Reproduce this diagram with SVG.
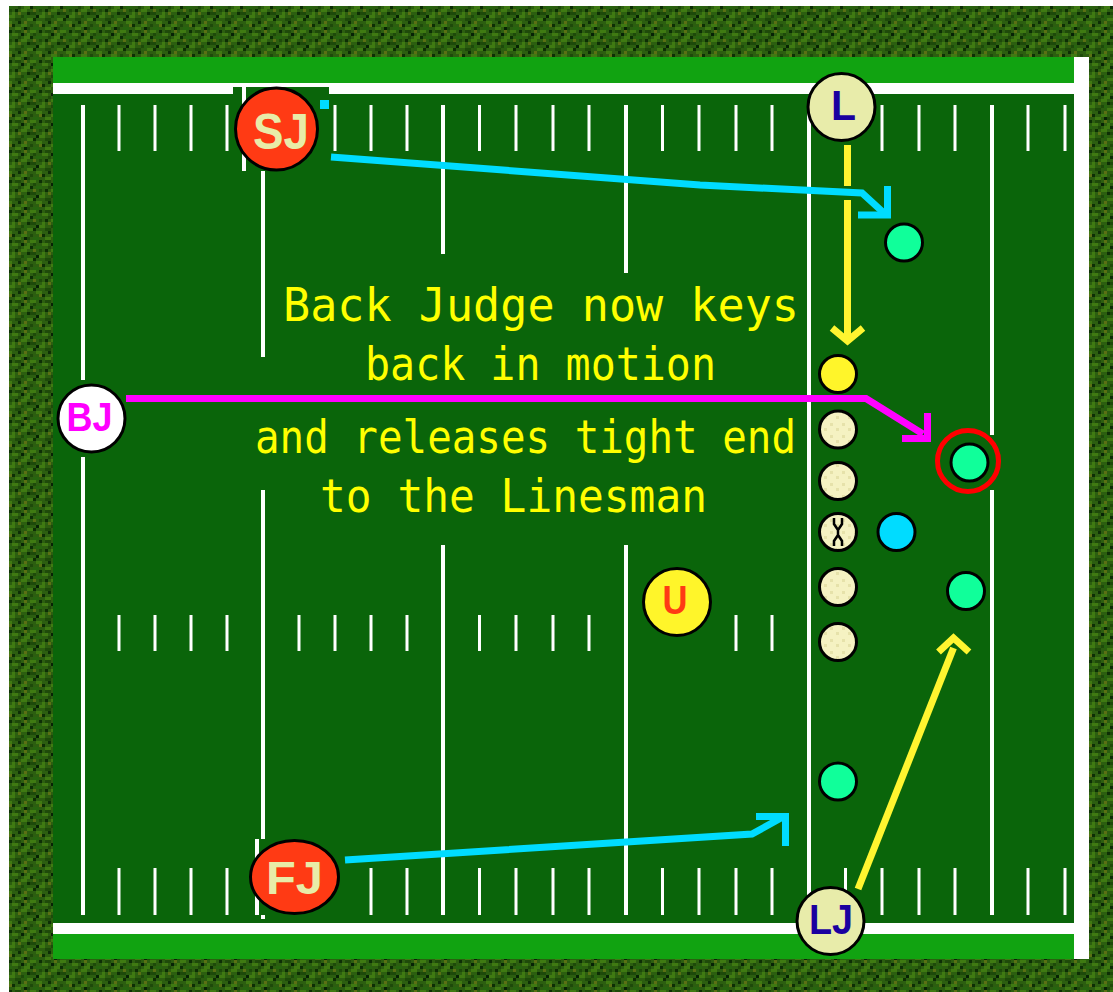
<svg xmlns="http://www.w3.org/2000/svg" width="1113" height="992" viewBox="0 0 1113 992">
<style>
.fld{fill:#0a650a}
.hash{stroke:#fff;stroke-width:3;fill:none}
.yl{stroke:#fff;stroke-width:4;fill:none}
.ring{stroke:#000;stroke-width:3}
.lbl{font-family:"Liberation Sans",Arial,sans-serif;font-weight:bold;text-anchor:middle}
.cap{font-family:"DejaVu Sans Mono","Liberation Mono",monospace;fill:#ffff00;font-size:46px}
.arr{fill:none;stroke-width:7;stroke-linejoin:miter;stroke-linecap:butt}
.cy{stroke:#00dcff}
.ye{stroke:#fff530}
.mg{stroke:#ff00ff}
.mint{fill:#10ff9a}
.pale{fill:url(#speck)}
</style>
<defs>
<pattern id="grass" width="30" height="30" patternUnits="userSpaceOnUse">
<rect width="30" height="30" fill="#2c5e10"/>
<rect x="0" y="0" width="6" height="3" fill="#3f7a12"/><rect x="9" y="0" width="3" height="3" fill="#0d2e05"/><rect x="15" y="0" width="6" height="3" fill="#1e4a0a"/><rect x="24" y="0" width="3" height="3" fill="#5a7014"/>
<rect x="3" y="3" width="3" height="3" fill="#1e4a0a"/><rect x="12" y="3" width="6" height="3" fill="#3f7a12"/><rect x="21" y="3" width="3" height="3" fill="#082205"/><rect x="27" y="3" width="3" height="3" fill="#3f7a12"/>
<rect x="0" y="6" width="3" height="3" fill="#0d2e05"/><rect x="6" y="6" width="6" height="3" fill="#26650e"/><rect x="18" y="6" width="3" height="3" fill="#1e4a0a"/><rect x="24" y="6" width="6" height="3" fill="#3f7a12"/>
<rect x="3" y="9" width="3" height="3" fill="#5a7014"/><rect x="9" y="9" width="3" height="3" fill="#1e4a0a"/><rect x="15" y="9" width="3" height="3" fill="#0d2e05"/><rect x="21" y="9" width="6" height="3" fill="#3f7a12"/>
<rect x="0" y="12" width="6" height="3" fill="#1e4a0a"/><rect x="12" y="12" width="3" height="3" fill="#3f7a12"/><rect x="18" y="12" width="3" height="3" fill="#5a7014"/><rect x="27" y="12" width="3" height="3" fill="#0d2e05"/>
<rect x="6" y="15" width="3" height="3" fill="#082205"/><rect x="9" y="15" width="6" height="3" fill="#3f7a12"/><rect x="21" y="15" width="3" height="3" fill="#1e4a0a"/><rect x="24" y="15" width="3" height="3" fill="#26650e"/>
<rect x="0" y="18" width="3" height="3" fill="#3f7a12"/><rect x="3" y="18" width="3" height="3" fill="#0d2e05"/><rect x="15" y="18" width="6" height="3" fill="#1e4a0a"/><rect x="27" y="18" width="3" height="3" fill="#3f7a12"/>
<rect x="6" y="21" width="6" height="3" fill="#3f7a12"/><rect x="18" y="21" width="3" height="3" fill="#0d2e05"/><rect x="24" y="21" width="3" height="3" fill="#5a7014"/>
<rect x="0" y="24" width="3" height="3" fill="#1e4a0a"/><rect x="9" y="24" width="3" height="3" fill="#5a7014"/><rect x="12" y="24" width="3" height="3" fill="#0d2e05"/><rect x="21" y="24" width="6" height="3" fill="#3f7a12"/>
<rect x="3" y="27" width="6" height="3" fill="#26650e"/><rect x="15" y="27" width="6" height="3" fill="#3f7a12"/><rect x="24" y="27" width="3" height="3" fill="#082205"/><rect x="27" y="27" width="3" height="3" fill="#1e4a0a"/>
</pattern>
<pattern id="speck" width="12" height="12" patternUnits="userSpaceOnUse">
<rect width="12" height="12" fill="#f5f2c2"/><rect x="2" y="3" width="3" height="3" fill="#e6e2aa"/><rect x="8" y="8" width="3" height="3" fill="#e6e2aa"/>
</pattern>
</defs>

<g id="field">
<rect width="1113" height="992" fill="#fff"/>
<rect x="9" y="6" width="1104" height="986" fill="url(#grass)"/>
<rect x="53" y="57" width="1021" height="902" fill="#11a311"/>
<rect x="53" y="83" width="1021" height="851" fill="#fff"/>
<rect x="53" y="94" width="1021" height="829" class="fld"/>
<rect x="1074" y="57" width="15" height="902" fill="#fff"/>
<path class="yl" d="M83,105V380M83,457V915M263,105V357M263,490V919M443,105V254M443,545V915M626,105V273M626,545V915M809,105V915M992,105V435M992,490V915"/>
<path class="hash" d="M119,105V151M155,105V151M191,105V151M227,105V151M335,105V151M371,105V151M407,105V151M479.5,105V151M516,105V151M553,105V151M589,105V151M662.5,105V151M699,105V151M736,105V151M772,105V151M882,105V151M919,105V151M955,105V151M1028,105V151M1065,105V151"/>
<path class="hash" d="M119,615V651M155,615V651M191,615V651M227,615V651M299,615V651M335,615V651M371,615V651M407,615V651M479.5,615V651M516,615V651M553,615V651M589,615V651M736,615V651M772,615V651"/>
<path class="hash" d="M119,868V915M155,868V915M191,868V915M227,868V915M371,868V915M407,868V915M479.5,868V915M516,868V915M553,868V915M589,868V915M662.5,868V915M699,868V915M736,868V915M772,868V915M845.5,868V915M882,868V915M919,868V915M955,868V915M1028,868V915M1065,868V915"/>
<rect x="233" y="87" width="96" height="84" class="fld"/>
<rect x="242" y="87" width="4" height="84" fill="#fff"/>
<rect x="320" y="100" width="9" height="9" fill="#00dcff"/>
<rect x="249" y="839" width="96" height="76" class="fld"/>
<rect x="255" y="839" width="4" height="76" fill="#fff"/>
<rect x="933" y="435" width="68" height="55" class="fld"/>
</g>

<g id="caption" class="cap">
<text x="283" y="321" textLength="516" lengthAdjust="spacingAndGlyphs">Back Judge now keys</text>
<text x="365" y="380" textLength="351" lengthAdjust="spacingAndGlyphs">back in motion</text>
<text x="255" y="453" textLength="541" lengthAdjust="spacingAndGlyphs">and releases tight end</text>
<text x="320" y="512" textLength="387" lengthAdjust="spacingAndGlyphs">to the Linesman</text>
</g>

<g id="connectors">
<polyline class="arr cy" points="331,157 700,185 862,193 885,214"/>
<polyline class="arr cy" points="858,215 887.5,215 887.5,186"/>
<polyline class="arr cy" points="345,860 752,834 781,818"/>
<polyline class="arr cy" points="756,816.5 785.5,816.5 785.5,846"/>
<line class="arr ye" x1="847.5" y1="145" x2="847.5" y2="186"/>
<line class="arr ye" x1="847.5" y1="200" x2="847.5" y2="340"/>
<polyline class="arr ye" points="832,328 847.5,341 863,328"/>
<line class="arr ye" x1="858" y1="889" x2="953.5" y2="648"/>
<polyline class="arr ye" points="938.5,652 953.5,638 969,652"/>
<polyline class="arr mg" points="126,398.5 866,398.5 923,434"/>
<polyline class="arr mg" points="902,438.5 927.5,438.5 927.5,413"/>
</g>

<g id="SJ">
<circle class="ring" cx="276.5" cy="129" r="41" fill="#ff3a14"/>
<text class="lbl" x="281" y="149" font-size="50" textLength="56" lengthAdjust="spacingAndGlyphs" fill="#e8eca8">SJ</text>
</g>
<g id="L">
<circle class="ring" cx="841.5" cy="107" r="33.5" fill="#e8ecaa"/>
<text class="lbl" x="843.5" y="120" font-size="43" textLength="25" lengthAdjust="spacingAndGlyphs" fill="#1a00a0">L</text>
</g>
<g id="BJ">
<circle class="ring" cx="91.5" cy="418.5" r="33.5" fill="#ffffff"/>
<text class="lbl" x="89.5" y="431" font-size="40" textLength="46" lengthAdjust="spacingAndGlyphs" fill="#ff00ff">BJ</text>
</g>
<g id="U">
<circle class="ring" cx="677" cy="602" r="33.5" fill="#fff52a"/>
<text class="lbl" x="675" y="614" font-size="40" textLength="25" lengthAdjust="spacingAndGlyphs" fill="#ff3a14">U</text>
</g>
<g id="FJ">
<ellipse class="ring" cx="294.5" cy="877" rx="44" ry="36.5" fill="#ff3a14"/>
<text class="lbl" x="294.5" y="894" font-size="47" textLength="57" lengthAdjust="spacingAndGlyphs" fill="#e8eca8">FJ</text>
</g>
<g id="LJ">
<circle class="ring" cx="830.5" cy="921" r="33.5" fill="#e8ecaa"/>
<text class="lbl" x="831" y="934" font-size="42" textLength="44" lengthAdjust="spacingAndGlyphs" fill="#1a00a0">LJ</text>
</g>

<g id="players">
<circle class="ring mint" cx="904" cy="242.5" r="18.5"/>
<circle class="ring" cx="838" cy="374" r="18.5" fill="#fff52a"/>
<circle class="ring pale" cx="838" cy="429.5" r="18.5"/>
<circle class="ring pale" cx="838" cy="481" r="18.5"/>
<circle class="ring pale" cx="838" cy="532" r="18.5"/>
<path d="M834,518V524L838,530V535L834,541V546M842,518V524L838,530M838,535L842,541V546" fill="none" stroke="#000" stroke-width="2.5"/>
<circle class="ring pale" cx="838" cy="587" r="18.5"/>
<circle class="ring pale" cx="838" cy="642" r="18.5"/>
<circle class="ring" cx="896.5" cy="532" r="18.5" fill="#00dcff"/>
<circle cx="968" cy="461" r="30.5" fill="none" stroke="#ff0000" stroke-width="5"/>
<circle class="ring mint" cx="969.5" cy="462.5" r="18.5"/>
<circle class="ring mint" cx="966" cy="591" r="18.5"/>
<circle class="ring mint" cx="838" cy="781.5" r="18.5"/>
</g>
</svg>
